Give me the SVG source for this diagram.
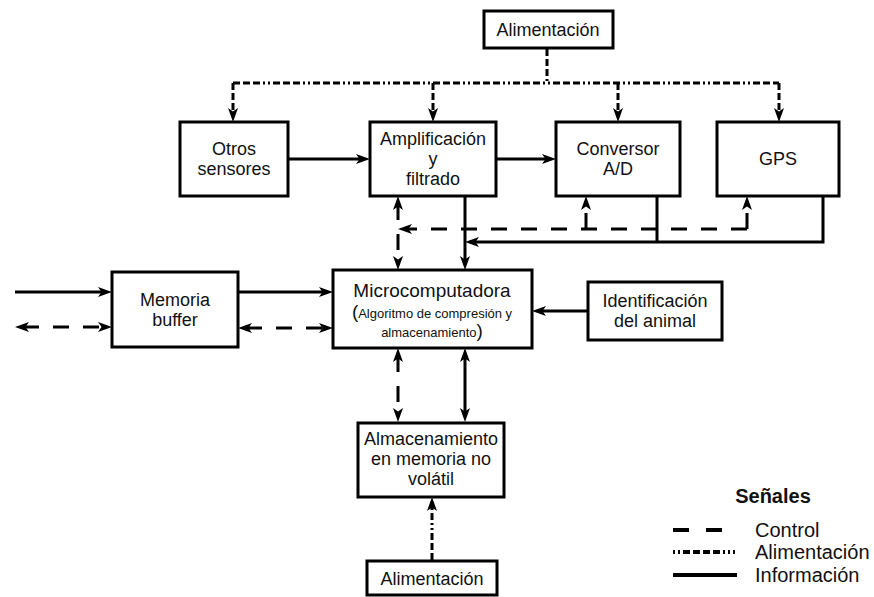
<svg xmlns="http://www.w3.org/2000/svg" width="874" height="597" viewBox="0 0 874 597">
<style>
.box{fill:#fff;stroke:#000;stroke-width:3}
text{font-family:"Liberation Sans",Arial,sans-serif;font-size:18px;fill:#111;text-anchor:middle}
.info{fill:none;stroke:#000;stroke-width:3}
.ctrl{fill:none;stroke:#000;stroke-width:3;stroke-dasharray:16,14}
.pow{fill:none;stroke:#000;stroke-width:3;stroke-dasharray:7,3,7,3,7,3,2,3,2,3}
.lg{text-anchor:start;font-size:20px}
</style>
<defs>
<marker id="a" viewBox="0 0 14 10" markerWidth="14" markerHeight="10" refX="6" refY="5" orient="auto-start-reverse" markerUnits="userSpaceOnUse">
<path d="M0,0 L14,5 L0,10 L3.5,5 z" fill="#000"/>
</marker>
</defs>

<g id="connectors">
<!-- power -->
<path class="pow" d="M547,49 V83"/>
<path class="pow" d="M233,83 H779"/>
<path class="pow" d="M233,83 V114" marker-end="url(#a)"/>
<path class="pow" d="M433,83 V114" marker-end="url(#a)"/>
<path class="pow" d="M618,83 V114" marker-end="url(#a)"/>
<path class="pow" d="M779,83 V114" marker-end="url(#a)"/>
<path class="pow" d="M432,560 V505" marker-end="url(#a)"/>
<!-- information -->
<path class="info" d="M288,159 H362" marker-end="url(#a)"/>
<path class="info" d="M496,159 H548" marker-end="url(#a)"/>
<path class="info" d="M15,292 H104" marker-end="url(#a)"/>
<path class="info" d="M238,292 H325" marker-end="url(#a)"/>
<path class="info" d="M588,311 H540" marker-end="url(#a)"/>
<path class="info" d="M465,197 V262" marker-end="url(#a)"/>
<path class="info" d="M823,197 V242 H473" marker-end="url(#a)"/>
<path class="info" d="M657,197 V242"/>
<path class="info" d="M465,356 V414" marker-start="url(#a)" marker-end="url(#a)"/>
<!-- control -->
<path class="ctrl" d="M23,327 H104" marker-start="url(#a)" marker-end="url(#a)"/>
<path class="ctrl" d="M246,328 H325" marker-start="url(#a)" marker-end="url(#a)"/>
<path class="ctrl" d="M398,204 V262" marker-start="url(#a)" marker-end="url(#a)"/>
<path class="ctrl" d="M747,229 H406" marker-end="url(#a)"/>
<path class="ctrl" d="M747,229 V204" marker-end="url(#a)"/>
<path class="ctrl" d="M586,229 V204" marker-end="url(#a)"/>
<path class="ctrl" d="M398,356 V414" marker-start="url(#a)" marker-end="url(#a)"/>
</g>

<g id="alim-top"><rect class="box" x="484" y="11" width="129" height="37"/><text x="548" y="36">Alimentación</text></g>
<g id="otros"><rect class="box" x="180" y="122" width="108" height="74"/><text x="234" y="155">Otros</text><text x="234" y="175">sensores</text></g>
<g id="amp"><rect class="box" x="370" y="122" width="126" height="74"/><text x="433" y="145">Amplificación</text><text x="433" y="165">y</text><text x="433" y="185">filtrado</text></g>
<g id="conv"><rect class="box" x="556" y="122" width="124" height="74"/><text x="618" y="155">Conversor</text><text x="618" y="175">A/D</text></g>
<g id="gps"><rect class="box" x="717" y="122" width="122" height="74"/><text x="778" y="165">GPS</text></g>
<g id="memoria"><rect class="box" x="112" y="272" width="126" height="75"/><text x="175" y="306">Memoria</text><text x="175" y="326">buffer</text></g>
<g id="micro"><rect class="box" x="333" y="270" width="199" height="78"/>
<text x="432" y="297" style="font-size:19px">Microcomputadora</text>
<text x="432" y="318"><tspan style="font-size:19px">(</tspan><tspan style="font-size:13px">Algoritmo de compresión y</tspan></text>
<text x="432" y="337"><tspan style="font-size:13px">almacenamiento</tspan><tspan style="font-size:19px">)</tspan></text>
</g>
<g id="ident"><rect class="box" x="588" y="282" width="134" height="58"/><text x="655" y="307">Identificación</text><text x="655" y="327">del animal</text></g>
<g id="almac"><rect class="box" x="358" y="423" width="146" height="74"/><text x="431" y="445">Almacenamiento</text><text x="431" y="465">en memoria no</text><text x="431" y="485">volátil</text></g>
<g id="alim-bottom"><rect class="box" x="367" y="561" width="130" height="34"/><text x="432" y="585">Alimentación</text></g>

<g id="legend">
<text x="773" y="503" style="font-size:20px;font-weight:bold">Señales</text>
<path d="M673,530 H722" stroke="#000" stroke-width="4" stroke-dasharray="16,17" fill="none"/>
<path d="M673,552 H737" stroke="#000" stroke-width="4" stroke-dasharray="2,3,2,3,7,3,7,3,7,3,7,3,2,3,2,3,2" fill="none"/>
<path d="M673,575 H737" stroke="#000" stroke-width="4" fill="none"/>
<text class="lg" x="755" y="537">Control</text>
<text class="lg" x="755" y="559">Alimentación</text>
<text class="lg" x="755" y="582">Información</text>
</g>
</svg>
